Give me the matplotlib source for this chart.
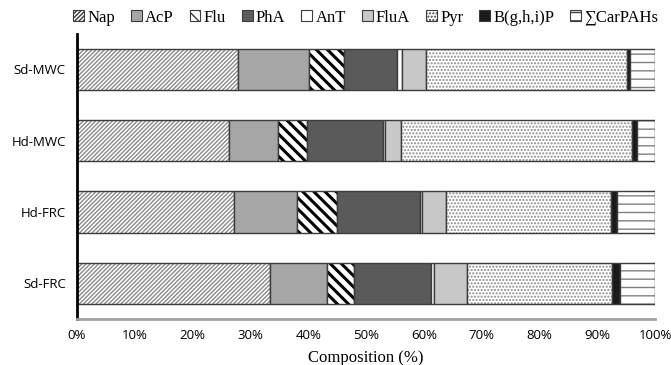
import numpy as np
import matplotlib
matplotlib.use("Agg")
from matplotlib import pyplot as plt
from matplotlib.patches import Patch
from matplotlib.ticker import FuncFormatter

# samples, top to bottom
samples = ["Sd-MWC", "Hd-MWC", "Hd-FRC", "Sd-FRC"]
compounds = ["Nap", "AcP", "Flu", "PhA", "AnT", "FluA", "Pyr", "B(g,h,i)P", "\u2211CarPAHs"]

# composition in %, one list per compound (order follows samples)
nap = [27.8, 26.3, 27.2, 33.3]
acp = [12.4, 8.5, 10.9, 9.9]
flu = [6.0, 5.0, 6.9, 4.7]
pha = [9.2, 13.1, 14.3, 13.4]
ant = [0.9, 0.4, 0.4, 0.4]
flua = [4.0, 2.8, 4.1, 5.7]
pyr = [34.8, 40.0, 28.5, 25.2]
bghip = [0.5, 0.8, 1.2, 1.4]
carpahs = [4.4, 3.1, 6.5, 6.0]

series = [nap, acp, flu, pha, ant, flua, pyr, bghip, carpahs]

# face colour, hatch, hatch colour, hatch width
styles = [
    ("white", "////////", "#8a8a8a", 1.0),
    ("#a6a6a6", None, None, 1.0),
    ("white", "\\\\\\", "black", 2.2),
    ("#5a5a5a", None, None, 1.0),
    ("white", None, None, 1.0),
    ("#c8c8c8", None, None, 1.0),
    ("white", ".....", "#8a8a8a", 1.0),
    ("#1a1a1a", None, None, 1.0),
    ("white", "--", "#808080", 1.0),
]

plt.rcParams["hatch.linewidth"] = 1.0

fig = plt.figure(figsize=(6.71, 3.65), dpi=100)
ax = fig.add_axes([0.1148, 0.126, 0.8614, 0.7817])

y = np.arange(len(samples))
left = np.zeros(len(samples))
for vals, (fc, hatch, hc, hw) in zip(series, styles):
    vals = np.array(vals)
    if hatch:
        bars = ax.barh(y, vals, left=left, height=0.58, color=fc, hatch=hatch,
                       edgecolor=hc, linewidth=0)
        for b in bars:
            if hasattr(b, "set_hatch_linewidth"):
                b.set_hatch_linewidth(hw)
    else:
        ax.barh(y, vals, left=left, height=0.58, color=fc, linewidth=0)
    ax.barh(y, vals, left=left, height=0.58, fill=False,
            edgecolor="#3c3c3c", linewidth=1.0)
    left += vals

ax.set_xlim(0, 100)
ax.set_ylim(3.5, -0.5)
ax.set_yticks(y)
ax.set_yticklabels(samples, family="Open Sans", fontsize=9.5)
ax.set_xticks(np.arange(0, 101, 10))
ax.xaxis.set_major_formatter(FuncFormatter(lambda v, p: f"{int(v)}%"))
for t in ax.get_xticklabels():
    t.set_family("Open Sans")
    t.set_fontsize(9.5)
ax.tick_params(axis="both", length=0)
ax.tick_params(axis="y", pad=8)
ax.tick_params(axis="x", pad=7)

for s in ["top", "right"]:
    ax.spines[s].set_visible(False)
ax.spines["left"].set_linewidth(2)
ax.spines["left"].set_color("black")
ax.spines["bottom"].set_linewidth(2)
ax.spines["bottom"].set_color("#a0a0a0")

ax.set_xlabel("Composition (%)", family=["Liberation Serif", "DejaVu Serif"],
              fontsize=12, labelpad=6)

handles = []
for fc, hatch, hc, hw in styles:
    if hatch:
        h = Patch(facecolor=fc, hatch=hatch, edgecolor="#3c3c3c", linewidth=0.8)
    else:
        h = Patch(facecolor=fc, edgecolor="#3c3c3c", linewidth=0.8)
    handles.append(h)

fig.legend(handles, compounds, loc="center", bbox_to_anchor=(0.545, 0.952), ncol=9,
           frameon=False, handlelength=0.65, handleheight=0.65, handletextpad=0.2,
           columnspacing=0.95, borderaxespad=0,
           prop={"family": ["Liberation Serif", "DejaVu Serif"], "size": 12})

fig.savefig("out.png", dpi=100)
